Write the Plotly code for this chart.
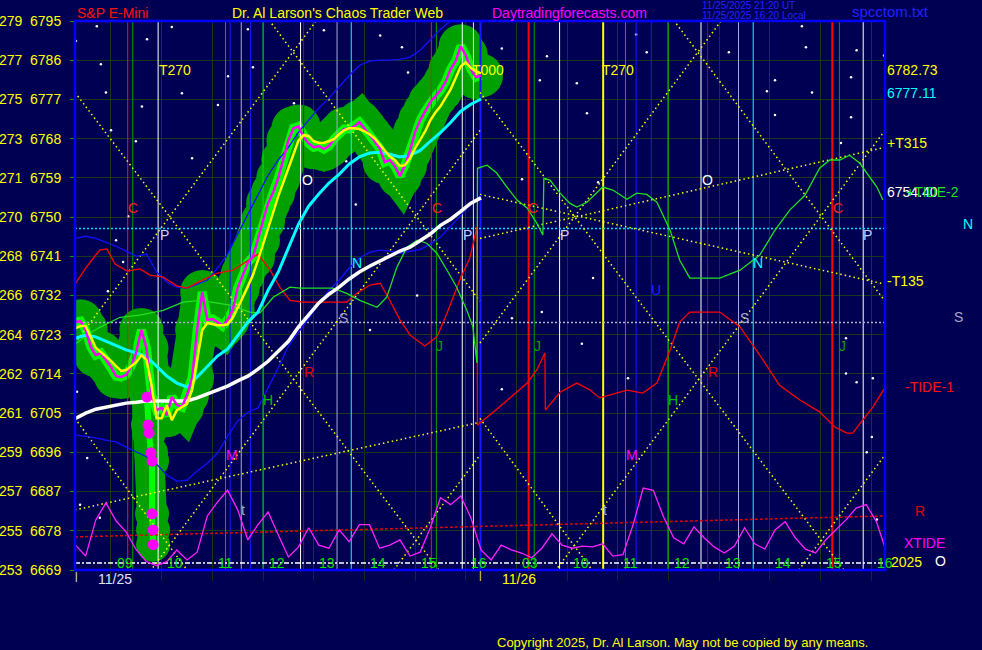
import numpy as np
import plotly.graph_objects as go

# ---------------- data ----------------
hour_labels = ['09', '10', '11', '12', '13', '14', '15', '16',
               '03', '10', '11', '12', '13', '14', '15', '16']
price_ticks = [6669, 6678, 6687, 6696, 6705, 6714, 6723, 6732, 6741, 6750,
               6759, 6768, 6777, 6786, 6795]
degree_ticks = [253, 255, 257, 259, 261, 262, 264, 266, 268, 270, 271, 273, 275, 277, 279]

# price (magenta) and smoothed price (yellow), sampled every 0.1 h from -0.7
price_start, price_step = -0.7, 0.1
close = [6725.9, 6726.1, 6724.1, 6720.2, 6718.3, 6718.8, 6717.2, 6715.6, 6713.5, 6713.3,
         6713.8, 6715.8, 6719.0, 6724.1, 6719.9, 6709.2, 6705.7, 6706.2, 6704.5, 6708.7,
         6706.9, 6706.4, 6709.2, 6713.1, 6724.1, 6732.8, 6726.4, 6726.6, 6725.9, 6725.0,
         6726.4, 6728.6, 6733.7, 6736.9, 6739.6, 6740.8, 6744.7, 6749.1, 6753.2, 6755.7,
         6758.9, 6763.1, 6767.6, 6770.4, 6770.8, 6768.3, 6766.9, 6766.0, 6766.3, 6765.6,
         6766.3, 6767.9, 6769.0, 6770.2, 6770.2, 6770.8, 6771.8, 6770.4, 6768.8, 6767.4,
         6765.8, 6762.6, 6763.1, 6761.7, 6759.4, 6761.9, 6765.3, 6769.5, 6772.2, 6774.3,
         6776.4, 6777.7, 6779.1, 6781.0, 6783.9, 6785.8, 6789.2, 6787.1, 6783.9, 6782.1,
         6782.5]
smooth = [6724.5, 6725.0, 6725.0, 6722.5, 6720.0, 6719.0, 6718.1, 6717.0, 6715.8, 6714.7,
          6714.9, 6715.8, 6716.7, 6718.3, 6717.2, 6711.4, 6703.8, 6703.8, 6706.8, 6703.4,
          6705.7, 6706.4, 6707.1, 6710.3, 6717.2, 6724.1, 6725.7, 6725.4, 6725.2, 6725.2,
          6725.4, 6726.8, 6729.1, 6731.6, 6734.1, 6736.7, 6740.1, 6743.8, 6747.9, 6751.4,
          6754.8, 6758.0, 6761.2, 6764.7, 6767.6, 6768.8, 6768.6, 6767.4, 6767.0, 6767.0,
          6767.4, 6767.9, 6769.0, 6769.9, 6770.4, 6770.4, 6770.2, 6769.7, 6769.0, 6768.1,
          6766.7, 6765.3, 6763.9, 6763.1, 6761.7, 6761.9, 6763.5, 6765.8, 6767.9, 6769.7,
          6772.2, 6774.0, 6775.4, 6777.5, 6779.3, 6781.9, 6784.6, 6785.5, 6784.2, 6783.5,
          6783.0]

# spike lows (big magenta dots)
spike_x = [0.71, 0.73, 0.75, 0.79, 0.81, 0.81, 0.83, 0.83]
spike_y = [6708.7, 6702.3, 6700.4, 6695.9, 6694.0, 6681.9, 6678.2, 6674.8]

# moving averages and bands, sampled every 0.2 h from -0.7
ma_start, ma_step = -0.7, 0.2
ma_fast = [6722.2, 6722.9, 6722.5, 6721.5, 6720.6, 6719.5, 6718.8, 6717.9, 6715.8, 6713.5,
           6711.9, 6711.0, 6713.3, 6715.8, 6718.1, 6719.7, 6722.7, 6725.9, 6728.2, 6733.2,
           6737.4, 6743.1, 6748.4, 6752.5, 6755.3, 6757.8, 6759.8, 6762.2, 6763.8, 6764.7,
           6764.9, 6764.4, 6763.8, 6764.2, 6765.3, 6767.4, 6769.4, 6771.7, 6774.3, 6775.9,
           6777.1]
ma_slow = [6703.8, 6705.0, 6705.9, 6706.4, 6706.8, 6707.3, 6707.5, 6707.8, 6707.8, 6707.8,
           6707.8, 6707.8, 6708.5, 6709.4, 6710.3, 6711.2, 6712.4, 6713.5, 6715.1, 6716.9,
           6719.2, 6721.5, 6724.8, 6727.7, 6730.3, 6732.3, 6733.9, 6735.8, 6737.4, 6738.7,
           6739.9, 6741.0, 6742.2, 6743.1, 6744.5, 6746.1, 6748.1, 6749.5, 6751.3, 6753.2,
           6754.4]
band_up = [6745.1, 6745.6, 6745.1, 6744.2, 6743.3, 6742.2, 6741.0, 6741.5, 6737.4, 6735.1,
           6733.9, 6733.7, 6734.6, 6735.5, 6738.3, 6741.5, 6746.1, 6750.7, 6755.3, 6759.6,
           6763.1, 6766.0, 6769.5, 6772.2, 6775.0, 6777.3, 6780.0, 6782.5, 6784.8, 6785.8,
           6786.0, 6786.0, 6786.2, 6786.7, 6788.3, 6790.6, 6793.1, 6795.0, 6796.6]
band_lo = [6700.0, 6699.7, 6699.3, 6698.8, 6698.4, 6697.2, 6696.1, 6695.0, 6693.3, 6690.8,
           6689.4, 6689.6, 6691.7, 6693.5, 6695.8, 6699.7, 6703.2, 6705.2, 6706.2, 6710.8,
           6715.4, 6720.4, 6723.6, 6726.8, 6730.0, 6733.2, 6735.5, 6738.3, 6740.6, 6741.9,
           6742.4, 6742.2, 6741.7, 6742.2, 6742.6, 6743.8, 6745.4, 6747.9, 6750.4, 6753.2,
           6755.0]

# tide curves
tide1_x = [-0.70, -0.50, -0.30, -0.22, -0.08, 0.08, 0.32, 0.57, 0.77, 1.03, 1.30, 1.50, 1.76,
           2.09, 2.41, 2.68, 2.90, 3.14, 3.33, 3.53, 3.79, 4.65, 4.85, 5.11, 5.31, 5.50, 5.70,
           5.90, 6.19, 6.43, 6.63, 6.88, 7.08, 7.22, 7.23, 7.57, 7.87, 8.21, 8.40, 8.56, 8.57,
           8.86, 9.19, 9.45, 9.64, 10.18, 10.49, 10.77, 11.03, 11.22, 11.42, 12.01, 12.41,
           12.80, 13.19, 13.59, 13.98, 14.28, 14.52, 14.63, 14.83, 15.03, 15.25]
tide1_y = [6734.8, 6738.3, 6741.3, 6742.4, 6742.7, 6739.2, 6737.6, 6738.1, 6736.7, 6736.2,
           6734.2, 6733.7, 6735.3, 6737.1, 6737.8, 6739.9, 6741.5, 6737.8, 6733.9, 6730.9,
           6730.5, 6730.5, 6732.5, 6734.4, 6734.8, 6730.9, 6726.4, 6722.9, 6720.4, 6722.5,
           6728.0, 6735.5, 6740.6, 6747.7, 6702.3, 6705.5, 6708.5, 6711.9, 6714.9, 6718.8,
           6705.7, 6709.8, 6711.9, 6710.3, 6708.5, 6710.3, 6709.6, 6711.9, 6719.5, 6725.9,
           6728.2, 6728.2, 6724.8, 6718.3, 6711.4, 6708.0, 6705.3, 6701.8, 6700.4, 6700.4,
           6703.4, 6706.4, 6710.5]
tide2_x = [-0.69, -0.41, -0.22, 0.18, 0.57, 1.03, 1.42, 1.76, 2.35, 2.74, 2.94, 3.20, 3.53,
           3.73, 4.38, 4.65, 4.91, 5.25, 5.44, 5.64, 5.84, 6.04, 6.23, 6.43, 6.63, 6.82, 7.02,
           7.14, 7.22, 7.23, 7.42, 7.61, 7.81, 8.01, 8.21, 8.40, 8.52, 8.54, 8.66, 8.86, 9.05,
           9.19, 9.39, 9.59, 9.70, 9.90, 10.18, 10.37, 10.57, 10.77, 11.03, 11.22, 11.42,
           12.01, 12.41, 12.80, 13.10, 13.39, 13.69, 13.98, 14.18, 14.38, 14.57, 14.77, 14.97,
           15.11, 15.23]
tide2_y = [6721.0, 6723.4, 6724.7, 6727.0, 6727.5, 6728.6, 6730.5, 6730.9, 6729.8, 6728.2,
           6728.0, 6731.6, 6733.9, 6733.7, 6733.7, 6732.5, 6730.9, 6729.3, 6731.6, 6738.5,
           6743.1, 6744.7, 6744.0, 6741.7, 6737.8, 6733.9, 6728.6, 6724.8, 6716.5, 6761.2,
           6761.9, 6760.1, 6756.9, 6753.9, 6752.1, 6748.6, 6745.9, 6758.9, 6758.5, 6755.5,
           6753.2, 6752.3, 6753.4, 6755.7, 6756.9, 6756.2, 6754.1, 6755.5, 6755.2, 6753.4,
           6747.0, 6740.1, 6736.0, 6736.0, 6737.8, 6741.3, 6747.0, 6751.6, 6755.0, 6761.2,
           6763.1, 6763.1, 6764.2, 6762.4, 6759.2, 6756.9, 6753.9]

# XTIDE oscillator (plotted on the price scale), every 0.2 h from -0.7
xtide = [6674.7, 6672.2, 6680.5, 6684.4, 6680.3, 6677.7, 6673.6, 6670.9, 6670.0, 6670.9,
         6673.6, 6671.3, 6673.1, 6681.4, 6684.6, 6687.3, 6682.8, 6675.9, 6679.4, 6682.3,
         6677.1, 6672.0, 6674.3, 6678.7, 6674.7, 6674.0, 6678.2, 6675.5, 6679.4, 6679.4,
         6674.0, 6674.7, 6675.9, 6672.2, 6673.1, 6678.7, 6685.6, 6684.0, 6686.0, 6681.0,
         6673.6, 6671.3, 6674.7, 6673.6, 6672.9, 6671.8, 6674.0, 6677.3, 6674.7, 6674.0,
         6674.5, 6674.3, 6675.0, 6672.2, 6672.5, 6679.4, 6687.8, 6687.3, 6681.2, 6676.4,
         6675.0, 6678.9, 6676.4, 6674.3, 6672.9, 6674.5, 6678.7, 6675.0, 6673.8, 6678.2,
         6680.1, 6676.4, 6673.8, 6672.9, 6675.9, 6678.2, 6680.5, 6683.2, 6684.0, 6680.1,
         6673.1]

# vertical event lines (time, kind)
vline_x = [0.33, 0.43, 0.93, 2.26, 2.35, 2.57, 2.75, 3.00, 3.74, 3.80, 4.46, 4.74,
           6.32, 6.42, 6.93, 7.15, 7.29, 8.24, 8.35, 8.85, 9.71, 10.15, 10.36, 10.66,
           10.99, 11.64, 11.77, 12.38, 12.67, 14.23, 14.37, 14.84]
vline_kind = ['red', 'green', 'white', 'magenta', 'blue', 'lav', 'blue', 'lime', 'white', 'dred',
              'lav', 'cyan', 'red', 'green', 'white', 'yellow', 'blue2', 'red2', 'green', 'white',
              'yellow2', 'magenta', 'blue', 'blue', 'lime', 'white', 'dred', 'lav', 'cyan',
              'red2', 'green', 'white']

# horizontal levels
level_cyan = 6747.4
level_grey = 6725.8
level_white = 6670.6
level_red = (6676.6, 6681.4)

# yellow dotted Gann lines: (x0, y0, x1, y1)
gann_lines = [(-0.71, 6778.6, 6.47, 6669.0), (-0.71, 6721.1, 4.06, 6795.2),
              (3.12, 6795.2, 7.28, 6730.7), (7.28, 6769.9, 0.79, 6669.0),
              (-0.71, 6703.8, 1.50, 6669.0), (5.58, 6669.0, 7.28, 6695.4),
              (7.28, 6778.6, 14.46, 6669.0), (7.28, 6721.1, 12.05, 6795.2),
              (11.10, 6795.2, 15.27, 6730.7), (15.27, 6769.9, 8.78, 6669.0),
              (7.28, 6703.8, 9.49, 6669.0), (13.57, 6669.0, 15.27, 6695.4),
              (-0.71, 6682.8, 7.28, 6702.9), (7.28, 6755.2, 15.27, 6734.6),
              (7.28, 6745.1, 15.27, 6766.0)]

# background stars
stars_x = [-0.28, -0.69, -0.20, 0.71, 1.20, -0.10, 1.40, 0.61, 2.70, 2.80, 2.31, 2.11, 3.61,
           4.20, 5.31, 5.74, 5.86, 7.53, 7.71, 8.46, 8.60, 9.19, 9.39, 10.36, 10.57, 12.19,
           13.10, 13.71, 14.60, 15.25, 13.10, 12.94, 14.60, 0.00, 0.49, 1.60, 0.34, 0.10,
           0.24, -0.06, -0.67, -0.47, -0.61, -0.22, 14.71, 15.03, 15.01, 14.91, 15.11, 14.40,
           14.50, 14.50, 13.83, 14.71, 13.63, 8.11, 9.51, 7.91, 8.50, 9.29, 9.61, 10.20,
           7.71, 3.55, 4.64, 4.83, 3.33, 6.04, 5.11]
stars_y = [6793.8, 6790.4, 6785.1, 6790.8, 6793.6, 6778.6, 6778.4, 6775.4, 6793.1, 6784.4,
           6782.3, 6775.7, 6776.1, 6792.9, 6791.7, 6789.0, 6783.2, 6783.7, 6788.7, 6781.4,
           6786.9, 6780.7, 6773.8, 6791.9, 6787.8, 6787.8, 6781.4, 6789.0, 6782.1, 6787.1,
           6773.4, 6778.9, 6772.9, 6769.9, 6767.4, 6763.5, 6750.2, 6744.7, 6739.7, 6733.0,
           6709.9, 6694.7, 6684.0, 6681.0, 6712.1, 6713.0, 6699.5, 6696.0, 6680.6, 6767.0,
           6722.2, 6714.1, 6778.6, 6788.3, 6793.8, 6758.7, 6736.0, 6726.8, 6728.2, 6720.9,
           6758.0, 6713.0, 6710.5, 6767.9, 6762.8, 6752.9, 6747.9, 6732.0, 6724.1]

# ---------------- layout constants ----------------
W, H = 982, 650
ML, MR, MT, MB = 75, 97, 21, 80
X0, X1 = -0.71, 15.27
Y0, Y1 = 6669.0, 6795.0
BG = '#000052'
FONT = 'Liberation Sans, Arial, sans-serif'
GRID = '#173817'

COLORS = {'red': '#ff1010', 'red2': '#ff0000', 'dred': '#b00000', 'green': '#00a000',
          'lime': '#00e000', 'white': '#ffffff', 'magenta': '#ff00ff', 'blue': '#1818ff',
          'blue2': '#1818ff', 'lav': '#a8a8e0', 'cyan': '#00ffff', 'yellow': '#ffff00',
          'yellow2': '#ffff00'}
WIDTHS = {'red2': 2, 'blue2': 2, 'yellow2': 2}


def xp(px):
    return (px - ML) / (W - ML - MR)


def yp(py):
    return (H - MB - py) / (H - MT - MB)


def series_x(start, step, n):
    return np.round(start + step * np.arange(n), 3)


fig = go.Figure()

# stars
fig.add_trace(go.Scatter(x=stars_x, y=stars_y, mode='markers',
                         marker=dict(color='white', size=2.5, line=dict(width=0)),
                         hoverinfo='skip'))

px_ = series_x(price_start, price_step, len(close))
# green halo around price
fig.add_trace(go.Scatter(x=px_, y=close, mode='lines+markers',
                         line=dict(color='#00a000', width=40),
                         marker=dict(color='#00a000', size=44), hoverinfo='skip'))
fig.add_trace(go.Scatter(x=spike_x, y=spike_y, mode='lines+markers',
                         line=dict(color='#00a000', width=30),
                         marker=dict(color='#00a000', size=34), hoverinfo='skip'))
fig.add_trace(go.Scatter(x=px_, y=close, mode='lines',
                         line=dict(color='#00ff00', width=9), hoverinfo='skip'))
fig.add_trace(go.Scatter(x=spike_x, y=spike_y, mode='lines',
                         line=dict(color='#00ff00', width=6), hoverinfo='skip'))

# vertical event lines grouped by kind
for kind in dict.fromkeys(vline_kind):
    xs, ys = [], []
    for t, k in zip(vline_x, vline_kind):
        if k == kind:
            xs += [t, t, None]
            ys += [Y0, Y1, None]
    fig.add_trace(go.Scatter(x=xs, y=ys, mode='lines',
                             line=dict(color=COLORS[kind], width=WIDTHS.get(kind, 1)),
                             hoverinfo='skip'))

# horizontal levels
fig.add_trace(go.Scatter(x=[X0, X1], y=[level_cyan, level_cyan], mode='lines',
                         line=dict(color='#00e0ff', width=1.5, dash='2px,2px'), hoverinfo='skip'))
fig.add_trace(go.Scatter(x=[X0, X1], y=[level_grey, level_grey], mode='lines',
                         line=dict(color='#b0b0c8', width=1.5, dash='2px,2px'), hoverinfo='skip'))
fig.add_trace(go.Scatter(x=[X0, X1], y=list(level_red), mode='lines',
                         line=dict(color='#e00000', width=1.5, dash='3px,2px'), hoverinfo='skip'))
fig.add_trace(go.Scatter(x=[X0, X1], y=[level_white, level_white], mode='lines',
                         line=dict(color='#ffffff', width=1.5, dash='5px,2px,2px,2px'),
                         hoverinfo='skip'))

# gann lines
gx, gy = [], []
for x0, y0, x1, y1 in gann_lines:
    gx += [x0, x1, None]
    gy += [y0, y1, None]
fig.add_trace(go.Scatter(x=gx, y=gy, mode='lines',
                         line=dict(color='#ffff00', width=1.5, dash='1.5px,3px'),
                         hoverinfo='skip'))

mx = series_x(ma_start, ma_step, len(ma_fast))
# bands
fig.add_trace(go.Scatter(x=series_x(ma_start, ma_step, len(band_up)), y=band_up, mode='lines',
                         line=dict(color='#1010ff', width=1.3), hoverinfo='skip'))
fig.add_trace(go.Scatter(x=series_x(ma_start, ma_step, len(band_lo)), y=band_lo, mode='lines',
                         line=dict(color='#1010ff', width=1.3), hoverinfo='skip'))
# tides
fig.add_trace(go.Scatter(x=tide1_x, y=tide1_y, mode='lines',
                         line=dict(color='#ff0000', width=1.3), hoverinfo='skip'))
fig.add_trace(go.Scatter(x=tide2_x, y=tide2_y, mode='lines',
                         line=dict(color='#20e020', width=1.3), hoverinfo='skip'))
# moving averages
fig.add_trace(go.Scatter(x=mx, y=ma_slow, mode='lines',
                         line=dict(color='#ffffff', width=3.5), hoverinfo='skip'))
fig.add_trace(go.Scatter(x=mx, y=ma_fast, mode='lines',
                         line=dict(color='#00ffff', width=3), hoverinfo='skip'))
# price
fig.add_trace(go.Scatter(x=px_, y=close, mode='lines',
                         line=dict(color='#ff00ff', width=2.5), hoverinfo='skip'))
fig.add_trace(go.Scatter(x=spike_x, y=spike_y, mode='markers',
                         marker=dict(color='#ff00ff', size=11), hoverinfo='skip'))
fig.add_trace(go.Scatter(x=px_, y=smooth, mode='lines',
                         line=dict(color='#ffff00', width=2.5), hoverinfo='skip'))
# XTIDE
fig.add_trace(go.Scatter(x=series_x(ma_start, ma_step, len(xtide)), y=xtide, mode='lines',
                         line=dict(color='#ff20ff', width=1.3), hoverinfo='skip'))

annotations = []


def txt(text, x, y, color, size=14, xref='x', yref='y', xanchor='center', yanchor='middle'):
    annotations.append(dict(text=text, x=x, y=y, xref=xref, yref=yref, showarrow=False,
                            xanchor=xanchor, yanchor=yanchor,
                            font=dict(family=FONT, size=size, color=color)))


# hour labels inside the plot bottom
for k, lab in enumerate(hour_labels):
    txt(lab, k + 0.07, 6670.5, '#00e000', 14, xanchor='left')

# in-plot astro labels
for text, x, y, c in [('T270', 1.26, 6783.7, '#ffff00'), ('T000', 7.44, 6783.7, '#ffff00'),
                      ('T270', 10.00, 6783.7, '#ffff00'),
                      ('C', 0.43, 6752.0, '#ff2020'), ('C', 6.43, 6752.0, '#ff2020'),
                      ('C', 8.32, 6752.0, '#ff2020'), ('C', 14.34, 6752.0, '#ff2020'),
                      ('P', 1.05, 6746.0, '#d0d0ff'), ('P', 7.04, 6746.0, '#d0d0ff'),
                      ('P', 8.95, 6746.0, '#d0d0ff'), ('P', 14.93, 6746.0, '#d0d0ff'),
                      ('O', 3.87, 6758.5, '#ffffff'), ('O', 11.76, 6758.5, '#ffffff'),
                      ('N', 4.85, 6739.4, '#00ffff'), ('N', 12.76, 6739.4, '#00ffff'),
                      ('S', 4.58, 6726.8, '#a8a8c8'), ('S', 12.49, 6726.8, '#a8a8c8'),
                      ('J', 6.49, 6720.4, '#00a000'), ('J', 8.42, 6720.4, '#00a000'),
                      ('J', 14.44, 6720.4, '#00a000'),
                      ('R', 3.91, 6714.4, '#e00000'), ('R', 11.87, 6714.4, '#e00000'),
                      ('H', 3.10, 6708.0, '#00c000'), ('H', 11.08, 6708.0, '#00c000'),
                      ('M', 2.39, 6695.4, '#ff00ff'), ('M', 10.28, 6695.4, '#ff00ff'),
                      ('t', 2.60, 6682.8, '#a8a8c8'), ('t', 9.74, 6682.8, '#a8a8c8'),
                      ('U', 10.75, 6733.2, '#2020ff')]:
    txt(text, x, y, c)

# header texts
txt('S&amp;P E-Mini', xp(75), yp(13), '#ff1010', 14, 'paper', 'paper', 'left')
txt("Dr. Al Larson's Chaos Trader Web", xp(337), yp(13), '#ffff00', 14, 'paper', 'paper')
txt('Daytradingforecasts.com', xp(569), yp(13), '#ff00ff', 14, 'paper', 'paper')
txt('11/25/2025 21:20 UT', xp(700), yp(5), '#2020ff', 10, 'paper', 'paper', 'left')
txt('11/25/2025 16:20 Local', xp(700), yp(16), '#2020ff', 10, 'paper', 'paper', 'left')
txt('spcctom.txt', xp(850), yp(12), '#2020ff', 15, 'paper', 'paper', 'left')

# right side labels
for text, px, py, c in [('6782.73', 885, 70, '#ffff00'), ('6777.11', 885, 93, '#00ffff'),
                        ('+T315', 885, 143, '#ffff00'), ('6754.40', 885, 192, '#ffffff'),
                        ('+TIDE-2', 904, 192, '#20e020'), ('N', 961, 224, '#00ffff'),
                        ('-T135', 885, 281, '#ffff00'), ('S', 952, 317, '#a8a8c8'),
                        ('-TIDE-1', 903, 387, '#ff1010'), ('R', 913, 511, '#e00000'),
                        ('XTIDE', 902, 543, '#ff00ff'), ('2025', 889, 562, '#ffff00'),
                        ('O', 933, 561, '#ffffff')]:
    txt(text, xp(px), yp(py), c, 14, 'paper', 'paper', 'left')

# bottom date labels
txt('|', xp(76), yp(576), '#ffffff', 10, 'paper', 'paper')
txt('11/25', xp(115), yp(579), '#e0e0ff', 14, 'paper', 'paper')
txt('|', xp(480), yp(575), '#ffff00', 10, 'paper', 'paper')
txt('11/26', xp(519), yp(579), '#ffff00', 14, 'paper', 'paper')
txt('Copyright 2025, Dr. Al Larson. May not be copied by any means.', xp(682), yp(642),
    '#ffff00', 13, 'paper', 'paper')

fig.update_layout(
    width=W, height=H, margin=dict(l=ML, r=MR, t=MT, b=MB, autoexpand=False),
    paper_bgcolor=BG, plot_bgcolor=BG, showlegend=False,
    font=dict(family=FONT),
    xaxis=dict(range=[X0, X1], tickvals=list(range(16)), ticktext=[''] * 16,
               showgrid=True, gridcolor=GRID, gridwidth=1, zeroline=False,
               ticks='outside', ticklen=10, tickcolor='#1a2a1a', showline=False,
               fixedrange=True, automargin=False),
    yaxis=dict(range=[Y0, Y1], tickvals=price_ticks,
               ticktext=[f'{d}&nbsp;&nbsp;{p}' for d, p in zip(degree_ticks, price_ticks)],
               tickfont=dict(family=FONT, size=14, color='#ffff00'),
               showgrid=True, gridcolor=GRID, gridwidth=1, zeroline=False,
               ticks='outside', ticklen=4, tickcolor='#00a000', showline=False,
               ticklabelstandoff=6, fixedrange=True, automargin=False),
    shapes=[dict(type='rect', xref='paper', yref='paper', x0=0, y0=0, x1=1, y1=1,
                 line=dict(color='#0000ff', width=2.5), layer='above')],
    annotations=annotations,
)

fig.write_html('out.html', config={'displayModeBar': False},
               post_script="document.body.style.margin='0';"
                           "document.body.style.background='#000052';")
